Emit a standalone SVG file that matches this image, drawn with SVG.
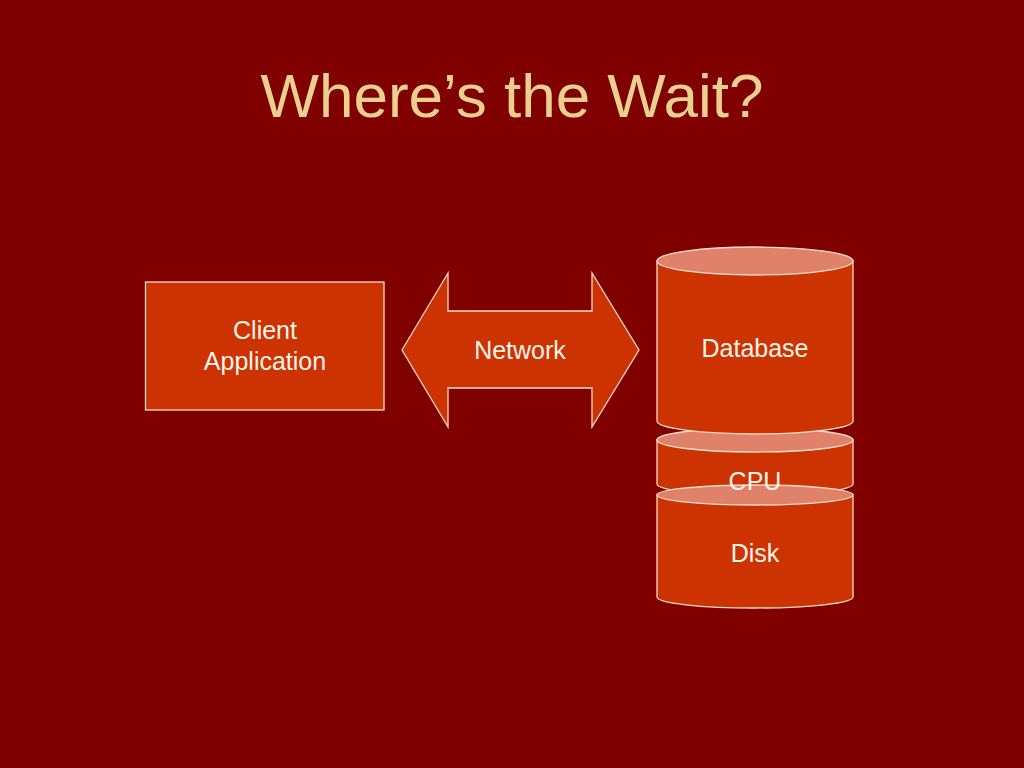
<svg xmlns="http://www.w3.org/2000/svg" width="1024" height="768" viewBox="0 0 1024 768">
<style>
.shape{fill:#CC3300;stroke:#F5DCCB;stroke-width:1.3}
.cap{fill:#E0826A;stroke:#F5DCCB;stroke-width:1.3}
.lbl{font-family:"Liberation Sans",Arial,sans-serif;font-size:25px;fill:#FFF4EC;text-anchor:middle}
.title{font-family:"Liberation Sans",Arial,sans-serif;font-size:62px;fill:#EBCF8E;text-anchor:middle}
</style>
<rect width="1024" height="768" fill="#800000"/>
<text class="title" x="512" y="117">Where’s the Wait?</text>
<g id="client">
<rect class="shape" x="145.5" y="282" width="238.5" height="128"/>
<text class="lbl" x="265" y="339">Client</text>
<text class="lbl" x="265" y="370">Application</text>
</g>
<g id="connectors">
<g id="network">
<polygon class="shape" points="402,350 448,273 448,311 592,311 592,273 639,350 592,427 592,388 448,388 448,427"/>
<text class="lbl" x="520" y="359">Network</text>
</g>
</g>
<g id="cpu">
<path class="shape" d="M657,440 L657,484 A98,11 0 0 0 853,484 L853,440 Z"/>
<ellipse class="cap" cx="755" cy="440" rx="98" ry="12"/>
</g>
<g id="disk">
<path class="shape" d="M657,495 L657,597 A98,11 0 0 0 853,597 L853,495 Z"/>
<ellipse class="cap" cx="755" cy="495" rx="98" ry="10"/>
<text class="lbl" x="755" y="562">Disk</text>
</g>
<text class="lbl" x="755" y="490">CPU</text>
<g id="database">
<path class="shape" d="M657,261 L657,421 A98,13 0 0 0 853,421 L853,261 Z"/>
<ellipse class="cap" cx="755" cy="261" rx="98" ry="14"/>
<text class="lbl" x="755" y="357">Database</text>
</g>
</svg>
